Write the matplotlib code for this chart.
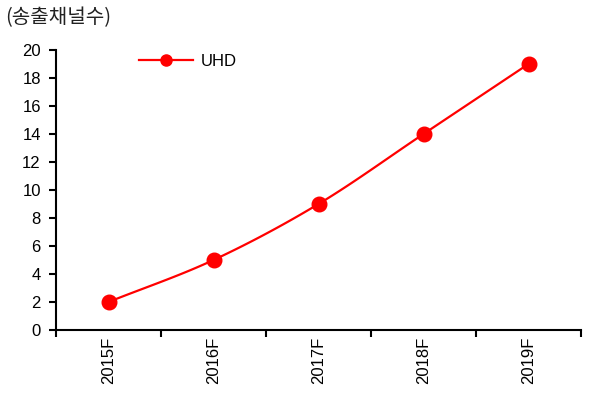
import numpy as np
import matplotlib
matplotlib.use('Agg')
import matplotlib.pyplot as plt

plt.rcParams['font.family'] = ['Liberation Sans', 'Noto Sans CJK KR', 'DejaVu Sans']

# UHD broadcast channel outlook
years = ['2015F', '2016F', '2017F', '2018F', '2019F']
uhd_channels = [2, 5, 9, 14, 19]


def smooth(xs, ys, n=30):
    # Catmull-Rom style curve through the points (Excel-like smoothed line)
    xs = np.asarray(xs, float)
    ys = np.asarray(ys, float)
    px = np.concatenate([[2*xs[0]-xs[1]], xs, [2*xs[-1]-xs[-2]]])
    py = np.concatenate([[2*ys[0]-ys[1]], ys, [2*ys[-1]-ys[-2]]])
    outx, outy = [], []
    t = np.linspace(0, 1, n)
    for i in range(1, len(px)-2):
        for p, out in ((px, outx), (py, outy)):
            p0, p1, p2, p3 = p[i-1], p[i], p[i+1], p[i+2]
            seg = 0.5*((2*p1) + (-p0+p2)*t + (2*p0-5*p1+4*p2-p3)*t**2
                       + (-p0+3*p1-3*p2+p3)*t**3)
            out.extend(seg)
    return np.array(outx), np.array(outy)


fig = plt.figure(figsize=(5.9, 3.99), dpi=100)
ax = fig.add_axes([0.095, 0.173, 0.89, 0.702])

x = np.arange(len(years))
sx, sy = smooth(x, uhd_channels)
ax.plot(sx, sy, color='#ff0000', lw=1.6, zorder=2)
ax.plot(x, uhd_channels, 'o', color='#ff0000', ms=10.5, zorder=3)
# legend entry
ax.plot([], [], '-o', color='#ff0000', lw=1.6, ms=8, label='UHD')

ax.set_xlim(-0.5, len(years)-0.5)
ax.set_ylim(0, 20)
ax.set_yticks(np.arange(0, 21, 2))
ax.set_xticks(x)
ax.set_xticklabels(years, rotation=90, fontsize=12)
ax.set_xticks(np.arange(-0.5, len(years), 1), minor=True)
ax.tick_params(axis='x', which='major', length=0, pad=5)
ax.tick_params(axis='x', which='minor', length=5, width=1.5, direction='out')
ax.tick_params(axis='y', length=5, width=1.5, direction='out', labelsize=12, pad=6)

for s in ['top', 'right']:
    ax.spines[s].set_visible(False)
for s in ['left', 'bottom']:
    ax.spines[s].set_linewidth(1.5)

ax.legend(loc='upper left', bbox_to_anchor=(0.13, 1.04), frameon=False,
          fontsize=12, handlelength=3.2, handletextpad=0.5)

fig.text(0.008, 0.955, '(송출채널수)', fontsize=14.5, ha='left', va='center',
         family=['Noto Sans CJK KR', 'DejaVu Sans'], color='#222222')

fig.savefig('out.png', dpi=100)
